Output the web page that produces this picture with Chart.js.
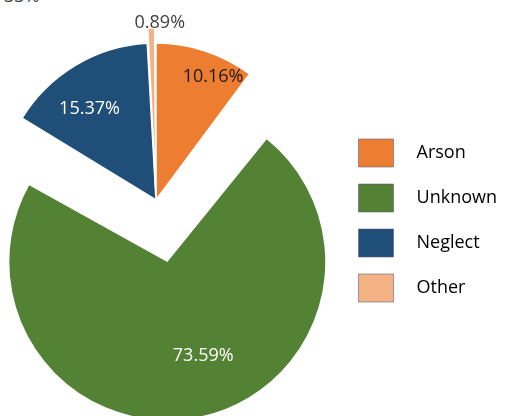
<!DOCTYPE html>
<html>
<head>
<meta charset="utf-8">
<script src="https://cdn.jsdelivr.net/npm/chart.js@4.4.1/dist/chart.umd.min.js"></script>
<style>
    html, body { margin: 0; padding: 0; background: #fff; overflow: hidden; }
    body { width: 506px; height: 416px; position: relative; }
    canvas { position: absolute; }
    #back { left: -23px; top: 0; }
    #front { left: 0; top: 0; }
    #cut { position: absolute; left: 4px; top: -17px; font: 18px 'Open Sans', sans-serif; color: #404040; }
</style>
</head>
<body>
<div id="cut">33%</div>
<canvas id="back" width="543" height="416"></canvas>
<canvas id="front" width="506" height="416"></canvas>
<script>
// ════════════════════════════════════════
// DATA
// ════════════════════════════════════════

const CATEGORIES = ['Arson', 'Unknown', 'Neglect', 'Other'];
const SHARES = [10.16, 73.59, 15.37, 0.89];
const COLORS = ['#ED7D31', '#548235', '#1F4E79', '#F4B183'];
const LABEL_COLORS = ['#1a1a1a', '#ffffff', '#ffffff', '#404040'];

const FONT = "'Open Sans', sans-serif";
const CLEAR = 'rgba(0,0,0,0)';

// ════════════════════════════════════════
// Percentage labels drawn inside/over each slice
// ════════════════════════════════════════

const sliceLabels = {
    id: 'sliceLabels',
    afterDatasetsDraw(chart, args, opts) {
        const { ctx } = chart;
        const meta = chart.getDatasetMeta(0);
        const values = chart.data.datasets[0].data;
        ctx.save();
        ctx.font = `18px ${FONT}`;
        ctx.textAlign = 'center';
        ctx.textBaseline = 'middle';
        meta.data.forEach((arc, i) => {
            if (!opts.show[i]) return;
            const { x, y, startAngle, endAngle, outerRadius, circumference } =
                arc.getProps(['x', 'y', 'startAngle', 'endAngle', 'outerRadius', 'circumference']);
            // same shift / radius growth that ArcElement uses for offset slices
            const shift = (arc.options.offset || 0) / 4;
            const mid = (startAngle + endAngle) / 2;
            const fix = 1 - Math.sin(Math.min(Math.PI, circumference));
            const r = (outerRadius + shift * fix) * opts.dist[i];
            const a = mid + opts.turn[i] * Math.PI / 180;
            const cx = x + Math.cos(mid) * shift;
            const cy = y + Math.sin(mid) * shift;
            ctx.fillStyle = LABEL_COLORS[i];
            ctx.fillText(values[i].toFixed(2) + '%', cx + Math.cos(a) * r, cy + Math.sin(a) * r);
        });
        ctx.restore();
    }
};

const labelPlacement = {
    dist: [0.864, 0.635, 0.718, 1.03],
    turn: [6.6, -10, -5.3, 2.95],
};

// ════════════════════════════════════════
// BACK: exploded "Unknown" slice + legend
// ════════════════════════════════════════

new Chart(document.getElementById('back'), {
    type: 'pie',
    data: {
        labels: CATEGORIES,
        datasets: [{
            data: SHARES,
            backgroundColor: [CLEAR, COLORS[1], CLEAR, CLEAR],
            borderWidth: 0,
            offset: [0, 169, 0, 0],
        }]
    },
    options: {
        responsive: false,
        animation: false,
        events: [],
        radius: 115.7,
        layout: { padding: { left: 0, right: 13, top: 25, bottom: 0 } },
        plugins: {
            tooltip: { enabled: false },
            legend: {
                position: 'right',
                align: 'center',
                onClick: null,
                labels: {
                    boxWidth: 35,
                    boxHeight: 28,
                    padding: 17,
                    color: '#262626',
                    font: { family: FONT, size: 18 },
                    // leading spaces push the text away from the swatch
                    generateLabels: () => CATEGORIES.map((c, i) => ({
                        text: '   ' + c,
                        fillStyle: COLORS[i],
                        strokeStyle: 'rgba(88,88,130,0.55)',
                        lineWidth: 1,
                        hidden: false,
                        index: i,
                    })),
                }
            },
            sliceLabels: { show: [false, true, false, false], ...labelPlacement },
        }
    },
    plugins: [sliceLabels]
});

// ════════════════════════════════════════
// FRONT: Arson, Neglect, Other
// ════════════════════════════════════════

new Chart(document.getElementById('front'), {
    type: 'pie',
    data: {
        labels: CATEGORIES,
        datasets: [{
            data: SHARES,
            backgroundColor: [COLORS[0], CLEAR, COLORS[2], COLORS[3]],
            borderColor: '#ffffff',
            borderWidth: [1.5, 0, 1.5, 1.5],
            offset: [0, 0, 0, 31],
        }]
    },
    options: {
        responsive: false,
        animation: false,
        events: [],
        radius: 157,
        layout: { padding: { left: 0, right: 194, top: 0, bottom: 16 } },
        plugins: {
            tooltip: { enabled: false },
            legend: { display: false },
            sliceLabels: { show: [true, false, true, true], ...labelPlacement },
        }
    },
    plugins: [sliceLabels]
});
</script>
</body>
</html>
